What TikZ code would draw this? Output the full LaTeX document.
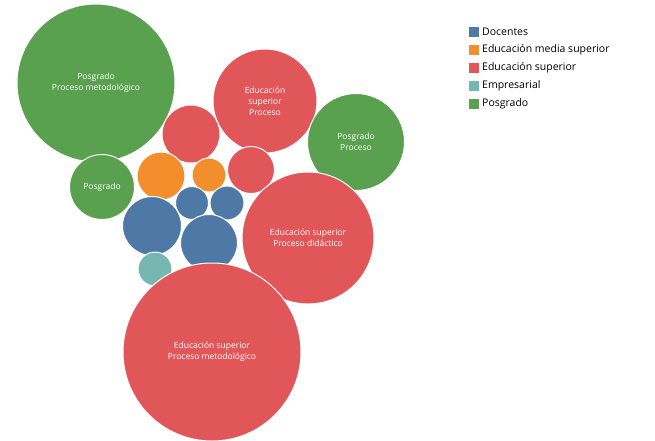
\documentclass[tikz,border=0pt]{standalone}
\usepackage{fontspec}
\setmainfont{Open Sans}
\definecolor{cblue}{HTML}{4E79A7}
\definecolor{corange}{HTML}{F28E2B}
\definecolor{cred}{HTML}{E15759}
\definecolor{cteal}{HTML}{76B7B2}
\definecolor{cgreen}{HTML}{59A14F}
\begin{document}
\begin{tikzpicture}[x=1pt,y=-1pt,
 bub/.style={circle,fill=#1,draw=white,line width=1pt,inner sep=0pt,text=white,font=\fontsize{8.5}{11}\selectfont,align=center},
 leg/.style={rectangle,fill=#1,minimum size=10pt,inner sep=0pt},
 legt/.style={anchor=west,font=\fontsize{10.5}{12}\selectfont,inner sep=0pt}]
\useasboundingbox (0,0) rectangle (655,440);
\node[bub=cgreen,minimum size=158pt] (pm) at (96,83) {Posgrado\\Proceso metodológico};
\node[bub=cred,minimum size=104pt] (esp) at (265,101) {Educación\\superior\\Proceso};
\node[bub=cgreen,minimum size=97pt] (pp) at (356,142) {Posgrado\\Proceso};
\node[bub=cred,minimum size=58pt] (r1) at (191,134) {};
\node[bub=corange,minimum size=48pt] (o1) at (161,176) {};
\node[bub=corange,minimum size=34pt] (o2) at (209,175) {};
\node[bub=cred,minimum size=47pt] (r2) at (251,170) {};
\node[bub=cgreen,minimum size=65pt] (pg) at (102,187) {Posgrado};
\node[bub=cblue,minimum size=33pt] (b1) at (192,203) {};
\node[bub=cblue,minimum size=34pt] (b2) at (227,203) {};
\node[bub=cblue,minimum size=59pt] (b3) at (152,226) {};
\node[bub=cblue,minimum size=57pt] (b4) at (209,243) {};
\node[bub=cteal,minimum size=34pt] (t1) at (155,269) {};
\node[bub=cred,minimum size=132pt] (esd) at (308,238) {Educación superior\\Proceso didáctico};
\node[bub=cred,minimum size=178pt] (esm) at (212,352) {Educación superior\\Proceso metodológico};
\foreach \c/\t [count=\i] in {cblue/Docentes,corange/Educación media superior,cred/Educación superior,cteal/Empresarial,cgreen/Posgrado}{
 \node[leg=\c] (l\i) at (474,14+18*\i) {};
 \node[legt] (lt\i) at (482,14+18*\i) {\t};
}
\end{tikzpicture}
\end{document}
